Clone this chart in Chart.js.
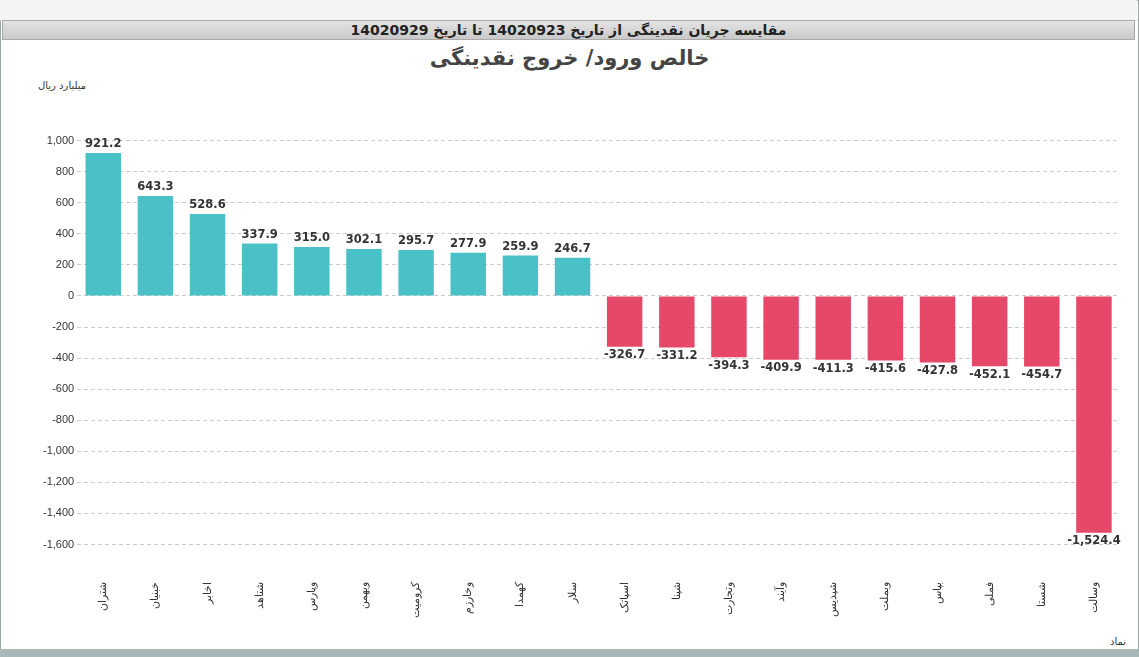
<!DOCTYPE html>
<html><head><meta charset="utf-8">
<script src="https://cdn.jsdelivr.net/npm/chart.js"></script>
<style>
body{margin:0;background:#fff;font-family:"DejaVu Sans",sans-serif;}
#frame{position:absolute;left:0;top:0;width:1137px;height:655px;border:1px solid #9aa8a8;background:#fff;}
#top{position:absolute;left:0;top:0;width:1137px;height:20px;background:#f4f4f4;border-bottom:1px solid #ddd;}
#bar{position:absolute;left:2px;top:20px;width:1133px;height:20px;background:linear-gradient(#e4e4e4,#c9c9c9);border:1px solid #aaa;box-sizing:border-box;text-align:center;font-weight:bold;font-size:14px;line-height:19px;color:#222;direction:rtl;}
#title{position:absolute;left:0;width:1139px;top:46px;text-align:center;font-weight:bold;font-size:21px;color:#444;direction:rtl;}
#unit{position:absolute;left:38px;top:80px;font-size:10px;color:#333;direction:rtl;}
#nm{position:absolute;left:1110px;top:636px;font-size:10px;color:#333;}
#wrap{position:absolute;left:0;top:100px;width:1139px;height:532px;}
#bottom{position:absolute;left:0;top:649px;width:1139px;height:8px;background:#a8b8b8;}
</style></head><body>
<div id="frame"></div><div id="top"></div>
<div id="bar">مقایسه جریان نقدینگی از تاریخ 14020923 تا تاریخ 14020929</div>
<div id="title">خالص ورود/ خروج نقدینگی</div>
<div id="unit">میلیارد ریال</div>
<div id="wrap"><canvas id="c"></canvas></div>
<div id="nm">نماد</div>
<div id="bottom"></div>
<script>
const categories=["شتران","خبنیان","اخابر","شتاهد","وپارس","وبهمن","کرومیت","وخارزم","کهمدا","سلار","اسپاتک","شپنا","وتجارت","وآیند","شپدیس","وبملت","بپاس","فملی","شستا","وسالت"];
const values=[921.2,643.3,528.6,337.9,315.0,302.1,295.7,277.9,259.9,246.7,-326.7,-331.2,-394.3,-409.9,-411.3,-415.6,-427.8,-452.1,-454.7,-1524.4];
const labelsPlugin={id:'lbl',afterDatasetsDraw(ch){const c=ch.ctx;const m=ch.getDatasetMeta(0);c.save();c.font='bold 11.5px "DejaVu Sans"';c.fillStyle='#333';c.textAlign='center';
m.data.forEach((b,i)=>{const v=values[i];const t=v.toLocaleString('en-US',{minimumFractionDigits:1,maximumFractionDigits:1});
if(v>=0){c.textBaseline='bottom';c.fillText(t,b.x,b.y-3);}else{c.textBaseline='top';c.fillText(t,b.x,b.y+3);}});c.restore();}};
new Chart(document.getElementById('c'),{type:'bar',
data:{labels:categories,datasets:[{data:values,backgroundColor:values.map(v=>v>=0?'rgba(54,186,192,0.9)':'rgba(226,52,88,0.9)'),barPercentage:0.68,categoryPercentage:1}]},
options:{responsive:true,maintainAspectRatio:false,animation:false,
layout:{padding:{left:22,right:19,top:0,bottom:0}},
plugins:{legend:{display:false},tooltip:{enabled:false}},
scales:{y:{min:-1700,max:1200,afterFit(s){s.width+=18;},afterBuildTicks(a){a.ticks=[];for(let v=-1600;v<=1000;v+=200)a.ticks.push({value:v});},
ticks:{color:'#333',font:{size:11},callback:v=>v.toLocaleString('en-US')},
grid:{color:'#ccc',drawTicks:false},border:{display:false,dash:[4,3]}},
x:{grid:{display:false},border:{display:false},ticks:{color:'#333',font:{size:11},minRotation:90,maxRotation:90,padding:14}}}},
plugins:[labelsPlugin]});
</script></body></html>
